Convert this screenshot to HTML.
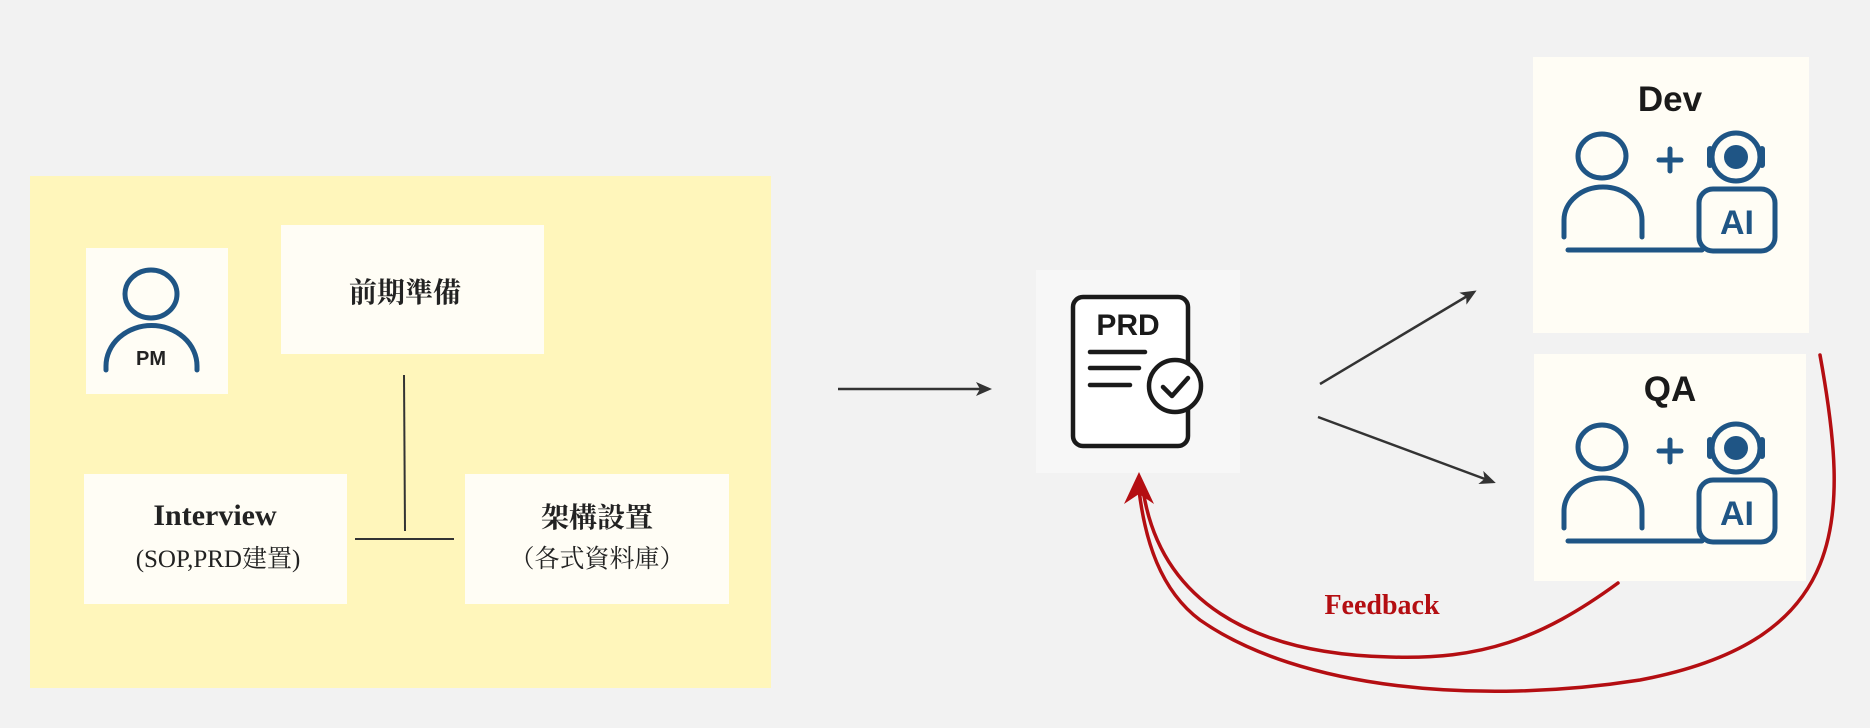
<!DOCTYPE html>
<html><head><meta charset="utf-8"><style>
html,body{margin:0;padding:0;background:#f2f2f2;}
svg{display:block}
</style></head><body>
<svg width="1870" height="728" viewBox="0 0 1870 728" xmlns="http://www.w3.org/2000/svg">
<rect width="1870" height="728" fill="#f2f2f2"/>
<defs>
<marker id="ah" markerWidth="16" markerHeight="14" refX="13" refY="7" orient="auto" markerUnits="userSpaceOnUse"><path d="M0,0 L16,7 L0,14 L4,7 Z" fill="#333"/></marker>
</defs>
<rect x="30" y="176" width="741" height="512" fill="#fff6bb"/>
<rect x="86" y="248" width="142" height="146" fill="#fffdf5"/>
<rect x="281" y="225" width="263" height="129" fill="#fffdf5"/>
<rect x="84" y="474" width="263" height="130" fill="#fffdf5"/>
<rect x="465" y="474" width="264" height="130" fill="#fffdf5"/>
<g fill="none" stroke="#1f5585" stroke-width="5" stroke-linecap="round">
<ellipse cx="151" cy="294" rx="26" ry="24"/>
<path d="M106,370 L106,366 A45,40 0 0 1 197,366 L197,370"/>
</g>
<text x="151" y="365" text-anchor="middle" font-family="Liberation Sans, sans-serif" font-weight="bold" font-size="20" fill="#222">PM</text>
<text x="405" y="302" text-anchor="middle" font-family="Liberation Serif, 'Noto Serif CJK SC', serif" font-weight="bold" font-size="28" fill="#222">前期準備</text>
<text x="215" y="525" text-anchor="middle" font-family="Liberation Serif, serif" font-weight="bold" font-size="30" fill="#222">Interview</text>
<text x="218" y="567" text-anchor="middle" font-family="Liberation Serif, 'Noto Serif CJK SC', serif" font-size="25" fill="#222">(SOP,PRD建置)</text>
<text x="597" y="527" text-anchor="middle" font-family="Liberation Serif, 'Noto Serif CJK SC', serif" font-weight="bold" font-size="28" fill="#222">架構設置</text>
<text x="597" y="567" text-anchor="middle" font-family="Liberation Serif, 'Noto Serif CJK SC', serif" font-size="25" fill="#222">（各式資料庫）</text>
<line x1="404" y1="375" x2="405" y2="531" stroke="#333" stroke-width="2"/>
<line x1="355" y1="539" x2="454" y2="539" stroke="#333" stroke-width="2"/>
<line x1="838" y1="389" x2="989" y2="389" stroke="#333" stroke-width="2.5" marker-end="url(#ah)"/>
<rect x="1036" y="270" width="204" height="203" fill="#f7f7f7"/>
<g fill="none" stroke="#1a1a1a" stroke-width="4.5" stroke-linecap="round" stroke-linejoin="round">
<rect x="1073" y="297" width="115" height="149" rx="10" fill="#fff"/>
<line x1="1090" y1="352" x2="1145" y2="352"/>
<line x1="1090" y1="368" x2="1139" y2="368"/>
<line x1="1090" y1="385" x2="1130" y2="385"/>
<circle cx="1175" cy="386" r="26" fill="#fff"/>
<path d="M1163,387 L1172,396 L1188,378"/>
</g>
<text x="1128" y="335" text-anchor="middle" font-family="Liberation Sans, sans-serif" font-weight="bold" font-size="30" fill="#1a1a1a">PRD</text>
<line x1="1320" y1="384" x2="1474" y2="292" stroke="#333" stroke-width="2.5" marker-end="url(#ah)"/>
<line x1="1318" y1="417" x2="1493" y2="482" stroke="#333" stroke-width="2.5" marker-end="url(#ah)"/>
<rect x="1533" y="57" width="276" height="276" fill="#fffdf5"/>
<rect x="1534" y="354" width="272" height="227" fill="#fffdf5"/>
<g>
<text x="1670" y="111" text-anchor="middle" font-family="Liberation Sans, sans-serif" font-weight="bold" font-size="35" fill="#1a1a1a">Dev</text>
<g fill="none" stroke="#1f5585" stroke-width="5" stroke-linecap="round">
<ellipse cx="1602" cy="156" rx="24" ry="22"/>
<path d="M1564,237 L1564,220 A39,33 0 0 1 1642,220 L1642,237"/>
<line x1="1670" y1="149" x2="1670" y2="171"/>
<line x1="1659" y1="160" x2="1681" y2="160"/>
<circle cx="1736" cy="157" r="24"/>
<rect x="1699" y="189" width="76" height="62" rx="14"/>
<line x1="1568" y1="250" x2="1702" y2="250"/>
</g>
<circle cx="1736" cy="157" r="12" fill="#1f5585"/>
<rect x="1707" y="146" width="6" height="22" rx="3" fill="#1f5585"/>
<rect x="1759" y="146" width="6" height="22" rx="3" fill="#1f5585"/>
<text x="1737" y="234" text-anchor="middle" font-family="Liberation Sans, sans-serif" font-weight="bold" font-size="34" fill="#1f5585">AI</text>
</g>
<g transform="translate(0,291)">
<text x="1670" y="110" text-anchor="middle" font-family="Liberation Sans, sans-serif" font-weight="bold" font-size="35" fill="#1a1a1a">QA</text>
<g fill="none" stroke="#1f5585" stroke-width="5" stroke-linecap="round">
<ellipse cx="1602" cy="156" rx="24" ry="22"/>
<path d="M1564,237 L1564,220 A39,33 0 0 1 1642,220 L1642,237"/>
<line x1="1670" y1="149" x2="1670" y2="171"/>
<line x1="1659" y1="160" x2="1681" y2="160"/>
<circle cx="1736" cy="157" r="24"/>
<rect x="1699" y="189" width="76" height="62" rx="14"/>
<line x1="1568" y1="250" x2="1702" y2="250"/>
</g>
<circle cx="1736" cy="157" r="12" fill="#1f5585"/>
<rect x="1707" y="146" width="6" height="22" rx="3" fill="#1f5585"/>
<rect x="1759" y="146" width="6" height="22" rx="3" fill="#1f5585"/>
<text x="1737" y="234" text-anchor="middle" font-family="Liberation Sans, sans-serif" font-weight="bold" font-size="34" fill="#1f5585">AI</text>
</g>
<g fill="none" stroke="#b40e12" stroke-width="3.5" stroke-linecap="round">
<path d="M1618,583 C1540,640 1480,660 1390,657 C1250,654 1160,600 1143,490"/>
<path d="M1820,355 C1850,520 1850,640 1640,680 C1480,705 1300,690 1200,620 C1160,590 1145,540 1139,490"/>
</g>
<path d="M1139,472 L1124,504 L1139,494 L1154,504 Z" fill="#b40e12"/>
<text x="1382" y="614" text-anchor="middle" font-family="Liberation Serif, serif" font-weight="bold" font-size="28" fill="#b40e12">Feedback</text>
</svg>
</body></html>
